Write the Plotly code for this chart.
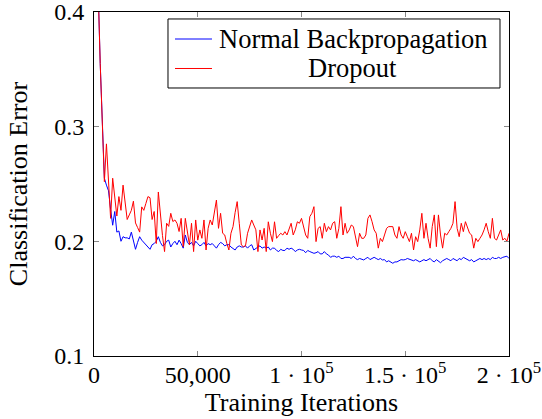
import plotly.graph_objects as go

step = 1000

normal_bp = [
    0.90, 0.56, 0.42, 0.355, 0.305, 0.255, 0.249, 0.244, 0.228, 0.214,
    0.226, 0.208, 0.209, 0.200, 0.204, 0.203, 0.203, 0.202, 0.208, 0.200,
    0.193, 0.199, 0.204, 0.201, 0.199, 0.197, 0.195, 0.193, 0.197, 0.198,
    0.200, 0.204, 0.199, 0.196, 0.197, 0.200, 0.201, 0.195, 0.198, 0.200,
    0.197, 0.201, 0.198, 0.194, 0.2055, 0.199, 0.197, 0.199, 0.196, 0.200,
    0.198, 0.196, 0.197, 0.199, 0.196, 0.198, 0.197, 0.198, 0.196, 0.194,
    0.197, 0.199, 0.198, 0.196, 0.197, 0.197, 0.195, 0.194, 0.1924, 0.195,
    0.196, 0.195, 0.195, 0.196, 0.194, 0.196, 0.197, 0.1924, 0.194, 0.195,
    0.196, 0.194, 0.195, 0.194, 0.195, 0.1924, 0.194, 0.194, 0.192, 0.191,
    0.193, 0.192, 0.192, 0.194, 0.193, 0.194, 0.193, 0.191, 0.1924, 0.193,
    0.1924, 0.192, 0.190, 0.192, 0.191, 0.190, 0.1895, 0.190, 0.191, 0.189,
    0.189, 0.191, 0.189, 0.188, 0.186, 0.187, 0.187, 0.186, 0.187, 0.185,
    0.185, 0.186, 0.186, 0.186, 0.185, 0.187, 0.185, 0.184, 0.185, 0.184,
    0.1837, 0.185, 0.186, 0.184, 0.185, 0.186, 0.185, 0.184, 0.185, 0.1837,
    0.184, 0.182, 0.183, 0.182, 0.1808, 0.182, 0.182, 0.183, 0.184, 0.1837,
    0.184, 0.185, 0.1843, 0.184, 0.183, 0.184, 0.183, 0.182, 0.183, 0.184,
    0.183, 0.184, 0.185, 0.183, 0.182, 0.184, 0.183, 0.1813, 0.183, 0.184,
    0.185, 0.184, 0.183, 0.185, 0.184, 0.183, 0.185, 0.184, 0.186, 0.185,
    0.184, 0.183, 0.184, 0.182, 0.183, 0.184, 0.185, 0.184, 0.185, 0.184,
    0.185, 0.184, 0.186, 0.185, 0.185, 0.186, 0.185, 0.186, 0.1866, 0.187,
    0.185,
]

dropout = [
    0.90, 0.56, 0.42, 0.355, 0.305, 0.252, 0.285, 0.249, 0.220, 0.255,
    0.236, 0.222, 0.239, 0.227, 0.249, 0.232, 0.219, 0.223, 0.227, 0.235,
    0.216, 0.212, 0.208, 0.230, 0.227, 0.233, 0.239, 0.238, 0.219, 0.226,
    0.198, 0.243, 0.2215, 0.205, 0.191, 0.2157, 0.213, 0.2244, 0.2172, 0.2186,
    0.2157, 0.2085, 0.220, 0.1953, 0.220, 0.209, 0.1968, 0.2157, 0.191, 0.2186,
    0.201, 0.2099, 0.2026, 0.2186, 0.1924, 0.2113, 0.2186, 0.2142, 0.2273, 0.236,
    0.2113, 0.2244, 0.207, 0.2055, 0.1982, 0.1924, 0.207, 0.2128, 0.225, 0.2346,
    0.2157, 0.1968, 0.1953, 0.1960, 0.207, 0.212, 0.2186, 0.2142, 0.210, 0.191,
    0.2099, 0.2011, 0.2113, 0.191, 0.217, 0.207, 0.1997, 0.217, 0.2026, 0.205,
    0.207, 0.2055, 0.2084, 0.2055, 0.2099, 0.2157, 0.2055, 0.210, 0.217, 0.2157,
    0.220, 0.2128, 0.2055, 0.2026, 0.2215, 0.2244, 0.2302, 0.1997, 0.2113, 0.2128,
    0.2026, 0.2157, 0.2084, 0.2128, 0.2099, 0.2157, 0.2171, 0.2026, 0.2113, 0.2302,
    0.2055, 0.2157, 0.207, 0.2099, 0.2142, 0.2128, 0.2040, 0.1953, 0.207, 0.2026,
    0.2026, 0.2055, 0.220, 0.223, 0.2171, 0.2099, 0.207, 0.194, 0.2026, 0.1997,
    0.2055, 0.2113, 0.2128, 0.2128, 0.2128, 0.2055, 0.2026, 0.2128, 0.2055, 0.2026,
    0.2084, 0.2040, 0.1997, 0.207, 0.1924, 0.2040, 0.1997, 0.2099, 0.2244, 0.2026,
    0.2157, 0.2026, 0.194, 0.2128, 0.223, 0.1953, 0.223, 0.2055, 0.194, 0.207,
    0.2055, 0.2084, 0.2113, 0.2157, 0.2346, 0.2113, 0.2040, 0.2157, 0.2084, 0.2171,
    0.2128, 0.207, 0.2055, 0.194, 0.2026, 0.1997, 0.2026, 0.2055, 0.2100, 0.2157,
    0.2084, 0.2026, 0.220, 0.2026, 0.2011, 0.2055, 0.2099, 0.2011, 0.2026, 0.2000,
    0.207,
]

iters_bp = [i * step for i in range(len(normal_bp))]
iters_do = [i * step for i in range(len(dropout))]

series_names = ["Normal Backpropagation", "Dropout"]
series_colors = ["#0000ff", "#ff0000"]

x_tickvals = [0, 50000, 100000, 150000, 200000]
x_ticktext = ["0", "50,000", "1 · 10<sup>5</sup>", "1.5 · 10<sup>5</sup>", "2 · 10<sup>5</sup>"]
y_tickvals = [0.1, 0.2, 0.3, 0.4]
y_ticktext = ["0.1", "0.2", "0.3", "0.4"]

FONT = "Liberation Serif"
TICK_FS = 24
TEXT_FS = 26

fig = go.Figure()
fig.add_trace(go.Scatter(x=iters_bp, y=normal_bp, mode="lines",
                         name=series_names[0], showlegend=False,
                         line=dict(color=series_colors[0], width=1)))
fig.add_trace(go.Scatter(x=iters_do, y=dropout, mode="lines",
                         name=series_names[1], showlegend=False,
                         line=dict(color=series_colors[1], width=1)))

axis_common = dict(showline=True, linecolor="black", linewidth=1, mirror="allticks",
                   ticks="inside", ticklen=5, tickcolor="#888888", tickwidth=1,
                   showgrid=False, zeroline=False, automargin=False,
                   ticklabeloverflow="allow",
                   tickfont=dict(family=FONT, size=TICK_FS, color="black"))

fig.update_xaxes(range=[0, 200000], tickvals=x_tickvals, ticktext=x_ticktext,
                 ticklabelstandoff=-3,
                 title=dict(text="Training Iterations", font=dict(family=FONT, size=TEXT_FS, color="black"), standoff=0),
                 **axis_common)
fig.update_yaxes(range=[0.0999, 0.40005], tickvals=y_tickvals, ticktext=y_ticktext,
                 ticklabelstandoff=4,
                 title=dict(text="Classification Error", font=dict(family=FONT, size=TEXT_FS, color="black"), standoff=19),
                 **axis_common)

# Legend box drawn in paper coordinates (top-right, as in the reference)
L_X0, L_X1, L_Y0, L_Y1 = 0.1783, 0.9783, 0.7791, 0.9797
SAMPLE_X0, SAMPLE_X1 = 0.1952, 0.2843
ROW_Y = [0.9215, 0.8358]
fig.add_shape(type="rect", xref="paper", yref="paper", x0=L_X0, x1=L_X1, y0=L_Y0, y1=L_Y1,
              line=dict(color="black", width=1), fillcolor="white", layer="above")
for name, color, ry in zip(series_names, series_colors, ROW_Y):
    fig.add_shape(type="line", xref="paper", yref="paper", x0=SAMPLE_X0, x1=SAMPLE_X1, y0=ry, y1=ry,
                  line=dict(color=color, width=1), layer="above")
fig.add_annotation(xref="paper", yref="paper", x=0.2964, y=ROW_Y[0], xanchor="left", yanchor="middle",
                   text=series_names[0], showarrow=False,
                   font=dict(family=FONT, size=26.5, color="black"))
fig.add_annotation(xref="paper", yref="paper", x=0.6229, y=ROW_Y[1], xanchor="center", yanchor="middle",
                   text=series_names[1], showarrow=False,
                   font=dict(family=FONT, size=26.5, color="black"))

fig.update_layout(
    width=542, height=419,
    margin=dict(l=94, r=33, t=12, b=63, autoexpand=False),
    paper_bgcolor="white", plot_bgcolor="white",
    font=dict(family=FONT, size=TEXT_FS, color="black"),
    showlegend=False,
)

fig.write_html("out.html", config={"displayModeBar": False},
               post_script="document.body.style.margin='0px';document.body.style.overflow='hidden';")
